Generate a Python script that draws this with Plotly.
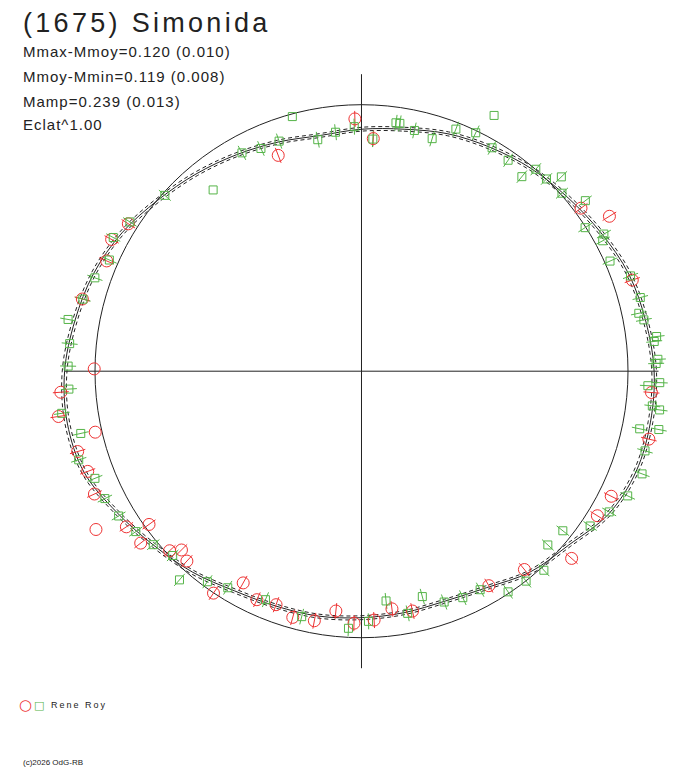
import plotly.graph_objects as go

# rotational phase in degrees (0 at top, clockwise) and brightness relative to mean
red_phase = [358.5, 2.9, 338.9, 53.4, 58.0, 71.4, 94.2, 103.3, 116.6, 121.5,
             131.7, 140.6, 149.3, 168.0, 172.7, 177.1, 181.7, 186.1, 190.7, 195.6,
             200.1, 204.6, 209.2, 213.7, 222.6, 225.2, 226.9, 234.2, 232.1, 236.5,
             245.3, 249.9, 254.2, 261.5, 266.0, 284.5, 293.4, 297.8, 302.3]
red_flux = [0.947, 0.874, 0.868, 1.026, 1.097, 1.072, 1.091, 1.108, 1.048, 1.038,
            1.056, 0.963, 0.936, 0.920, 0.899, 0.935, 0.946, 0.905, 0.953, 0.959,
            0.933, 0.943, 0.910, 1.001, 0.968, 0.952, 0.986, 0.983, 1.050, 1.058,
            1.103, 1.094, 1.107, 1.150, 1.131, 1.082, 1.042, 1.060, 1.035]
red_err = 0.03
red_rej_phase = [257.1, 239.2, 270.5]
red_rej_flux = [1.025, 1.160, 1.003]

green_phase = [358.3, 2.8, 7.9, 8.8, 12.4, 16.9, 21.3, 25.6, 30.3, 34.8,
               39.5, 40.8, 43.9, 45.8, 48.4, 52.7, 57.3, 60.5, 61.6, 66.1,
               70.5, 75.2, 78.2, 79.7, 83.3, 84.2, 87.7, 88.5, 92.2, 92.9,
               96.8, 97.4, 101.7, 101.1, 105.7, 110.1, 115.1, 119.6, 124.1, 128.4,
               133.0, 137.5, 141.9, 146.4, 151.5, 155.9, 160.3, 164.9, 169.2, 173.9,
               178.4, 182.9, 193.7, 202.8, 211.7, 216.2, 221.1, 225.7, 230.2, 234.6,
               239.2, 243.6, 248.1, 252.6, 257.5, 262.0, 266.5, 271.0, 275.4, 280.0,
               284.5, 289.3, 293.8, 298.3, 302.8, 311.8, 331.3, 335.7, 340.3, 349.3,
               353.8]
green_flux = [0.918, 0.872, 0.941, 0.941, 0.925, 0.912, 0.975, 0.992, 0.971, 0.964,
              0.946, 1.001, 1.001, 1.046, 1.006, 1.056, 0.997, 1.045, 1.029, 1.020,
              1.071, 1.082, 1.063, 1.077, 1.115, 1.104, 1.113, 1.106, 1.120, 1.076,
              1.099, 1.128, 1.066, 1.137, 1.105, 1.121, 1.103, 1.069, 1.036, 0.964,
              0.956, 1.013, 1.001, 0.994, 0.933, 0.931, 0.920, 0.876, 0.925, 0.867,
              0.939, 0.966, 0.948, 0.930, 0.955, 0.979, 1.039, 0.990, 1.017, 1.039,
              1.061, 1.075, 1.078, 1.112, 1.079, 1.136, 1.100, 1.101, 1.100, 1.118,
              1.080, 1.060, 1.034, 1.058, 1.034, 0.990, 0.934, 0.917, 0.917, 0.884,
              0.902]
green_err = 0.03
green_rej_phase = [344.8, 320.7, 27.4]
green_rej_flux = [0.990, 0.879, 1.081]

# fitted lightcurve
fit_phase = [0, 10, 20, 30, 40, 50, 60, 70, 80, 90, 100, 110, 120, 130, 140, 150, 160, 170,
             180, 190, 200, 210, 220, 230, 240, 250, 260, 270, 280, 290, 300, 310, 320, 330, 340, 350]
fit_flux = [0.908, 0.922, 0.948, 0.969, 0.992, 1.012, 1.038, 1.067, 1.083, 1.098, 1.101, 1.097,
            1.071, 1.015, 0.984, 0.938, 0.918, 0.920, 0.925, 0.933, 0.938, 0.952, 0.985, 1.017,
            1.060, 1.108, 1.121, 1.114, 1.092, 1.070, 1.038, 0.998, 0.966, 0.938, 0.915, 0.898]
fit_sigma = 0.008

axis_len = 1.1145
RED = '#ee3333'
GREEN = '#55b448'
INK = '#222222'


def err_segments(phase, flux, err):
    r, t = [], []
    for p, f in zip(phase, flux):
        r += [f - err, f + err, None]
        t += [p, p, None]
    return r, t


fig = go.Figure()

# axes cross
fig.add_trace(go.Scatterpolar(r=[axis_len, axis_len, None, axis_len, axis_len],
                              theta=[0, 180, None, 90, 270], mode='lines',
                              line=dict(color=INK, width=1), hoverinfo='skip'))

# fit and its uncertainty
theta_c = fit_phase + [fit_phase[0]]
flux_c = fit_flux + [fit_flux[0]]
fig.add_trace(go.Scatterpolar(r=flux_c, theta=theta_c, mode='lines',
                              line=dict(color=INK, width=1, shape='spline')))
for s in (1 + fit_sigma, 1 - fit_sigma):
    fig.add_trace(go.Scatterpolar(r=[f * s for f in flux_c], theta=theta_c, mode='lines',
                                  line=dict(color=INK, width=1, shape='spline', dash='4px,3px')))

# error bars
for ph, fl, e, c in [(red_phase, red_flux, red_err, RED), (green_phase, green_flux, green_err, GREEN)]:
    r, t = err_segments(ph, fl, e)
    fig.add_trace(go.Scatterpolar(r=r, theta=t, mode='lines', line=dict(color=c, width=1),
                                  hoverinfo='skip'))

# observations
fig.add_trace(go.Scatterpolar(r=red_flux + red_rej_flux, theta=red_phase + red_rej_phase,
                              mode='markers', cliponaxis=False,
                              marker=dict(symbol='circle-open', size=12, color=RED,
                                          line=dict(width=1))))
fig.add_trace(go.Scatterpolar(r=green_flux + green_rej_flux, theta=green_phase + green_rej_phase,
                              mode='markers', cliponaxis=False,
                              marker=dict(symbol='square-open', size=8, color=GREEN,
                                          line=dict(width=1))))

# the page body adds an 8 px margin, so the figure is 8 px smaller and shifted
OFF = 8
W, H = 688 - OFF, 768 - OFF
cx, cy, R0 = 361.5 - OFF, 371.2 - OFF, 266.5
rmax = 1.2
rp = rmax * R0

fig.update_layout(
    width=W, height=H,
    margin=dict(l=0, r=0, t=0, b=0),
    paper_bgcolor='white',
    showlegend=False,
    polar=dict(
        domain=dict(x=[(cx - rp) / W, (cx + rp) / W],
                    y=[(H - cy - rp) / H, (H - cy + rp) / H]),
        bgcolor='white',
        radialaxis=dict(range=[0, rmax], tickvals=[1.0], showticklabels=False, ticks='',
                        showline=False, showgrid=True, gridcolor=INK, gridwidth=1),
        angularaxis=dict(rotation=90, direction='clockwise', showgrid=False, showline=False,
                         showticklabels=False, ticks=''),
    ),
)


def txt(x, y, text, size, color=INK, family='Liberation Sans, Arial, sans-serif', spacing=0):
    if spacing:
        text = "<span style='letter-spacing:%spx'>%s</span>" % (spacing, text)
    fig.add_annotation(x=(x - OFF) / W, y=1 - (y - OFF) / H, xref='paper', yref='paper',
                       text=text, showarrow=False, xanchor='left', yanchor='middle',
                       font=dict(size=size, color=color, family=family))


txt(21, 23, '(1675) Simonida', 27, spacing=3.3)
txt(21, 51, 'Mmax-Mmoy=0.120 (0.010)', 15, spacing=1)
txt(21, 76, 'Mmoy-Mmin=0.119 (0.008)', 15, spacing=1)
txt(21, 101, 'Mamp=0.239 (0.013)', 15, spacing=1)
txt(21, 125, 'Eclat^1.00', 15, spacing=1)

# legend
txt(17, 705, '○', 15, RED, 'DejaVu Sans')
txt(32, 705, '□', 11, GREEN, 'DejaVu Sans')
txt(49, 705, 'Rene Roy', 9, spacing=2)
txt(21, 762, '(c)2026 OdG-RB', 8)

fig.write_html("out.html")
